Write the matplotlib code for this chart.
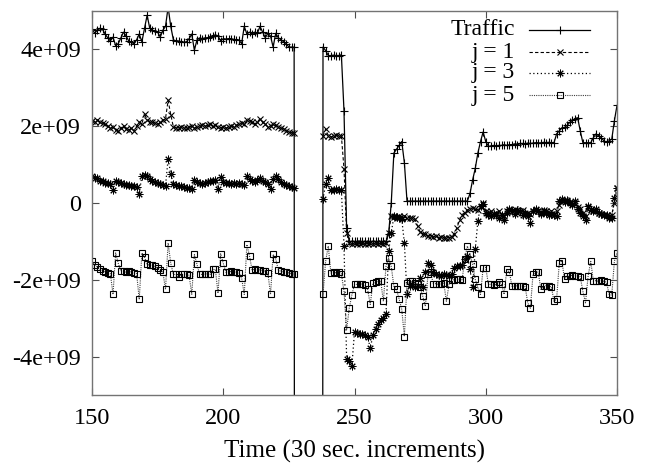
import numpy as np
import matplotlib
matplotlib.use("Agg")
import matplotlib.pyplot as plt

plt.rcParams['font.family'] = ['Liberation Serif', 'DejaVu Serif']

GAP = np.nan
DROP = -100.0  # traffic falls far below the plot during the outage

# time index (30 sec. increments)
time = np.arange(150, 351)

# all series in units of 1e9
traffic = [
    4.54, 4.42, 4.50, 4.55, 4.52, 4.40, 4.30, 4.22, 4.32, 4.10,
    4.15, 4.30, 4.45, 4.35, 4.22, 4.18, 4.15, 4.25, 4.40, 4.20,
    4.55, 4.89, 4.55, 4.50, 4.48, 4.45, 4.32, 4.50, 4.60, 5.10,
    4.60, 4.25, 4.22, 4.22, 4.20, 4.18, 4.20, 4.28, 4.40, 3.98,
    4.25, 4.30, 4.28, 4.30, 4.30, 4.33, 4.35, 4.38, 4.35, 4.22,
    4.28, 4.27, 4.28, 4.28, 4.26, 4.25, 4.24, 4.15, 4.60, 4.40,
    4.45, 4.40, 4.45, 4.42, 4.60, 4.45, 4.30, 4.42, 4.35, 4.06,
    4.42, 4.30, 4.25, 4.20, 4.15, 4.06, 4.06, 4.06, DROP, DROP,
    DROP, DROP, DROP, DROP, DROP, DROP, DROP, DROP, 4.06, 3.97,
    3.84, 3.84, 3.85, 3.84, 3.84, 3.86, 2.40, -0.65, -1.00, -1.00,
    -1.00, -1.00, -1.00, -1.00, -1.00, -1.00, -1.00, -1.00, -1.00, -1.00,
    -1.00, -1.00, -1.00, -0.80, 0.00, 1.30, 1.40, 1.50, 1.60, 1.05,
    0.05, 0.05, 0.05, 0.05, 0.05, 0.05, 0.05, 0.05, 0.05, 0.05,
    0.05, 0.05, 0.05, 0.05, 0.05, 0.05, 0.05, 0.05, 0.05, 0.05,
    0.05, 0.05, 0.05, 0.05, 0.25, 0.60, 0.90, 1.30, 1.60, 1.85,
    1.60, 1.48, 1.48, 1.50, 1.48, 1.50, 1.50, 1.52, 1.50, 1.52,
    1.52, 1.54, 1.52, 1.55, 1.55, 1.54, 1.56, 1.55, 1.56, 1.57,
    1.57, 1.56, 1.58, 1.57, 1.58, 1.57, 1.57, 1.80, 1.88, 1.95,
    1.97, 2.02, 2.10, 2.15, 2.20, 2.22, 1.88, 1.57, 1.57, 1.57,
    1.57, 1.70, 1.80, 1.75, 1.70, 1.62, 1.58, 1.62, 1.66, 2.14,
    2.54,
]

j1 = [
    2.14, 2.12, 2.16, 2.10, 2.08, 2.05, 2.00, 1.95, 1.98, 1.90,
    1.88, 1.95, 2.00, 1.92, 1.90, 1.95, 1.88, 2.00, 2.10, 2.05,
    2.33, 2.15, 2.12, 2.10, 2.08, 2.05, 2.10, 2.15, 2.20, 2.67,
    2.30, 1.98, 1.96, 1.95, 1.98, 1.95, 1.96, 1.98, 2.00, 1.95,
    1.98, 2.00, 2.02, 2.00, 2.02, 2.05, 2.00, 2.02, 1.98, 1.96,
    1.98, 1.95, 1.98, 2.00, 1.98, 2.02, 2.05, 2.08, 2.05, 2.15,
    2.14, 2.10, 2.05, 2.12, 2.19, 2.10, 2.05, 1.98, 2.00, 2.05,
    2.02, 1.98, 1.95, 1.92, 1.88, 1.85, 1.83, 1.83, GAP, GAP,
    GAP, GAP, GAP, GAP, GAP, GAP, GAP, GAP, 1.75, 1.93,
    1.75, 1.72, 1.75, 1.76, 1.74, 1.75, 0.89, -0.78, -1.05, -1.08,
    -1.05, -1.08, -1.06, -1.05, -1.08, -1.06, -1.05, -1.07, -1.05, -1.06,
    -1.05, -1.06, -1.05, -0.78, -0.34, -0.36, -0.38, -0.35, -0.38, -0.34,
    -0.38, -0.40, -0.38, -0.42, -0.60, -0.75, -0.80, -0.82, -0.85, -0.86,
    -0.88, -0.86, -0.90, -0.88, -0.90, -0.92, -0.90, -0.88, -0.80, -0.65,
    -0.45, -0.30, -0.25, -0.18, -0.15, -0.13, -0.15, -0.18, -0.10, 0.00,
    -0.20, -0.25, -0.22, -0.28, -0.25, -0.20, -0.30, -0.35, -0.22, -0.18,
    -0.20, -0.15, -0.25, -0.22, -0.18, -0.30, -0.25, -0.28, -0.20, -0.18,
    -0.22, -0.25, -0.18, -0.20, -0.25, -0.22, -0.30, -0.20, -0.05, 0.05,
    0.08, 0.05, 0.02, -0.02, 0.00, -0.10, -0.15, -0.25, -0.35, -0.10,
    -0.15, -0.20, -0.22, -0.25, -0.28, -0.30, -0.32, -0.35, -0.30, 0.00,
    0.40,
]

j3 = [
    0.71, 0.66, 0.64, 0.58, 0.56, 0.53, 0.51, 0.49, 0.34, 0.58,
    0.55, 0.52, 0.50, 0.48, 0.46, 0.45, 0.44, 0.42, 0.24, 0.71,
    0.74, 0.70, 0.62, 0.58, 0.55, 0.52, 0.50, 0.48, 0.45, 1.15,
    0.76, 0.49, 0.47, 0.45, 0.43, 0.42, 0.40, 0.38, 0.37, 0.61,
    0.55, 0.52, 0.50, 0.52, 0.54, 0.56, 0.58, 0.60, 0.37, 0.68,
    0.55, 0.52, 0.52, 0.50, 0.52, 0.50, 0.52, 0.50, 0.48, 0.71,
    0.62, 0.58, 0.55, 0.60, 0.65, 0.58, 0.55, 0.50, 0.37, 0.62,
    0.71, 0.62, 0.55, 0.50, 0.47, 0.44, 0.42, 0.40, GAP, GAP,
    GAP, GAP, GAP, GAP, GAP, GAP, GAP, GAP, 0.10, 0.49,
    0.65, 0.35, 0.34, 0.36, 0.35, 0.34, -1.12, -4.05, -4.12, -4.25,
    -3.35, -3.38, -3.40, -3.42, -3.45, -3.48, -3.78, -3.45, -3.27, -3.14,
    -3.05, -3.00, -2.90, -1.25, -0.78, -0.35, -0.36, -0.40, -0.42, -1.04,
    -2.38, -2.15, -2.10, -2.20, -2.15, -1.95, -2.20, -1.80, -1.57, -1.62,
    -1.80, -1.85, -1.88, -1.90, -1.85, -1.88, -1.90, -1.85, -1.69, -1.65,
    -1.65, -1.62, -1.47, -1.39, -1.73, -2.20, -1.20, -0.47, -0.08, -0.03,
    -0.25, -0.30, -0.35, -0.28, -0.32, -0.38, -0.30, -0.43, -0.25, -0.15,
    -0.20, -0.28, -0.18, -0.22, -0.30, -0.25, -0.33, -0.52, -0.20, -0.15,
    -0.20, -0.28, -0.22, -0.25, -0.30, -0.28, -0.32, -0.34, 0.05, 0.10,
    0.02, 0.08, 0.00, -0.05, 0.05, -0.15, -0.25, -0.35, -0.43, -0.08,
    -0.18, -0.22, -0.15, -0.25, -0.28, -0.32, -0.30, -0.38, -0.40, 0.13,
    0.38,
]

j5 = [
    -1.52, -1.62, -1.66, -1.72, -1.76, -1.80, -1.82, -1.84, -2.38, -1.30,
    -1.57, -1.78, -1.78, -1.80, -1.78, -1.80, -1.82, -1.84, -2.51, -1.30,
    -1.41, -1.60, -1.62, -1.62, -1.65, -1.70, -1.75, -1.80, -2.25, -1.04,
    -1.57, -1.86, -1.86, -1.94, -1.86, -1.85, -1.86, -1.88, -2.38, -1.34,
    -1.60, -1.86, -1.86, -1.85, -1.84, -1.86, -1.73, -1.73, -2.35, -1.32,
    -1.57, -1.80, -1.80, -1.78, -1.80, -1.80, -1.82, -1.95, -2.38, -1.08,
    -1.38, -1.75, -1.72, -1.75, -1.74, -1.76, -1.78, -1.82, -2.38, -1.34,
    -1.46, -1.75, -1.78, -1.80, -1.80, -1.82, -1.84, -1.86, GAP, GAP,
    GAP, GAP, GAP, GAP, GAP, GAP, GAP, GAP, -2.38, -1.52,
    -1.12, -1.82, -1.80, -1.82, -1.80, -1.84, -2.30, -3.30, -2.74, -2.39,
    -2.12, -2.12, -2.10, -2.12, -2.14, -2.25, -2.64, -2.09, -2.06, -2.04,
    -2.04, -2.56, -1.65, -1.43, -1.65, -2.17, -2.25, -2.50, -2.77, -3.48,
    -2.09, -2.04, -2.04, -2.08, -2.10, -2.20, -2.43, -2.69, -1.86, -1.80,
    -2.10, -2.10, -2.12, -2.10, -2.08, -2.56, -2.12, -2.00, -2.00, -1.99,
    -1.99, -2.00, -1.46, -1.12, -1.34, -1.60, -1.99, -2.20, -2.38, -1.70,
    -1.68, -2.12, -2.12, -2.14, -2.12, -2.05, -2.10, -2.38, -1.73, -1.80,
    -2.17, -2.17, -2.15, -2.17, -2.16, -2.18, -2.60, -2.74, -1.86, -1.80,
    -1.80, -2.25, -2.17, -2.15, -2.17, -2.18, -2.56, -2.50, -1.57, -1.50,
    -1.99, -1.90, -1.90, -1.88, -1.90, -1.90, -1.92, -2.30, -2.60, -1.90,
    -1.52, -2.04, -2.02, -2.04, -2.00, -2.04, -2.06, -2.38, -2.40, -1.52,
    -1.30,
]

series_labels = ['Traffic', 'j = 1', 'j = 3', 'j = 5']
y_ticks = [-4e9, -2e9, 0, 2e9, 4e9]
y_tick_labels = ['-4e+09', '-2e+09', '0', '2e+09', '4e+09']
x_ticks = [150, 200, 250, 300, 350]

styles = [
    dict(color='black', linestyle='-', lw=0.9, marker='+', ms=6, mew=0.8),
    dict(color='black', linestyle=(0, (3, 2)), lw=0.8, marker='x', ms=5, mew=0.8),
    dict(color='black', linestyle=(0, (1, 2)), lw=0.9, marker=(8, 2, 0), ms=5.5, mew=0.7),
    dict(color='0.25', linestyle=(0, (1, 1)), lw=0.8, marker='s', ms=4.5, mew=0.8,
         mfc='none', mec='black'),
]

fig = plt.figure(figsize=(6.49, 4.63), dpi=100)
ax = fig.add_axes([92 / 649, 1 - 395 / 463, 525 / 649, 384 / 463])

for vals, st in zip([traffic, j1, j3, j5], styles):
    ax.plot(time, np.array(vals) * 1e9, **st)

ax.set_xlim(150, 350)
ax.set_ylim(-5e9, 5e9)
ax.set_xticks(x_ticks)
ax.set_yticks(y_ticks)
ax.set_yticklabels(y_tick_labels)
ax.tick_params(direction='in', length=5, width=0.8, labelsize=17.5,
               top=True, right=True, pad=8, color='0.3')
ax.tick_params(axis='x', pad=9)
for sp in ax.spines.values():
    sp.set_color('0.45')
    sp.set_linewidth(1.0)
ax.set_xlabel('Time (30 sec. increments)', fontsize=18, labelpad=8)

# gnuplot style key: right-aligned text, then the line sample
key_y = [0.951, 0.893, 0.839, 0.781]
for lab, st, yk in zip(series_labels, styles, key_y):
    ax.text(0.805, yk, lab, transform=ax.transAxes, ha='right', va='center',
            fontsize=17)
    ax.plot([0.832, 0.891, 0.949], [yk, yk, yk], transform=ax.transAxes,
            clip_on=False, markevery=[1], **st)

fig.savefig('out.png', dpi=100)
